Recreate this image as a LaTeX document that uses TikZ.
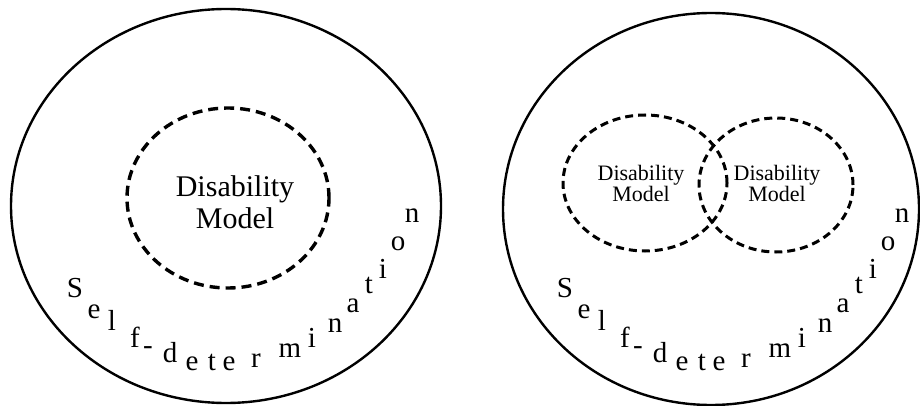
\documentclass[tikz,border=0pt]{standalone}
\usepackage{fontspec}
\setmainfont{Liberation Serif}
\usetikzlibrary{shapes.geometric,positioning}

\begin{document}
\begin{tikzpicture}[x=1pt, y=-1pt,
  outer/.style={draw, ellipse, line width=2.4pt, inner sep=0pt},
  model/.style={draw, ellipse, line width=3.4pt, dash pattern=on 10pt off 6pt, inner sep=0pt},
  smallmodel/.style={model, line width=3pt, dash pattern=on 8pt off 5pt},
  mlbl/.style={align=center, inner sep=0pt, font=\fontsize{30}{32}\selectfont},
  slbl/.style={align=center, inner sep=0pt, font=\fontsize{22}{21}\selectfont},
  letter/.style={anchor=base, inner sep=0pt, font=\fontsize{29}{29}\selectfont},
]
\useasboundingbox (0,0) rectangle (920,406);

% ─── Left panel: one disability model inside self-determination ───
\node[outer, minimum width=430pt, minimum height=394pt] (selfL) at (226,206) {};
\node[model, minimum width=202pt, minimum height=180pt] (dmL) at (228,198) {};
\node[mlbl] (dmLtxt) at (235,202) {Disability\\Model};

% ─── Right panel: two overlapping disability models ───
\node[outer, minimum width=416pt, minimum height=392pt] (selfR) at (711,209) {};
\node[smallmodel, minimum width=164pt, minimum height=136pt] (dmA) at (645,183) {};
\node[smallmodel, minimum width=154pt, minimum height=134pt] (dmB) at (776,185) {};
\node[slbl] (dmAtxt) at (641,183) {Disability\\Model};
\node[slbl] (dmBtxt) at (777,183) {Disability\\Model};

% ─── Curved "Self-determination" letters, same in both panels ───
\foreach \dx/\side in {0/L, 490/R}
  \foreach \ch/\px/\py [count=\i] in {S/75/297, e/94/318, l/112/330, f/135/347, -/148/354,
      d/170/362, e/192/370, t/212/370, e/229/370, r/256/367, m/290/357, i/312/347,
      n/335/332, a/353/312, t/369/293, i/383/278, o/398/250, n/412/222}
    \node[letter] (\side\i) at (\px+\dx,\py) {\ch};

\end{tikzpicture}
\end{document}
